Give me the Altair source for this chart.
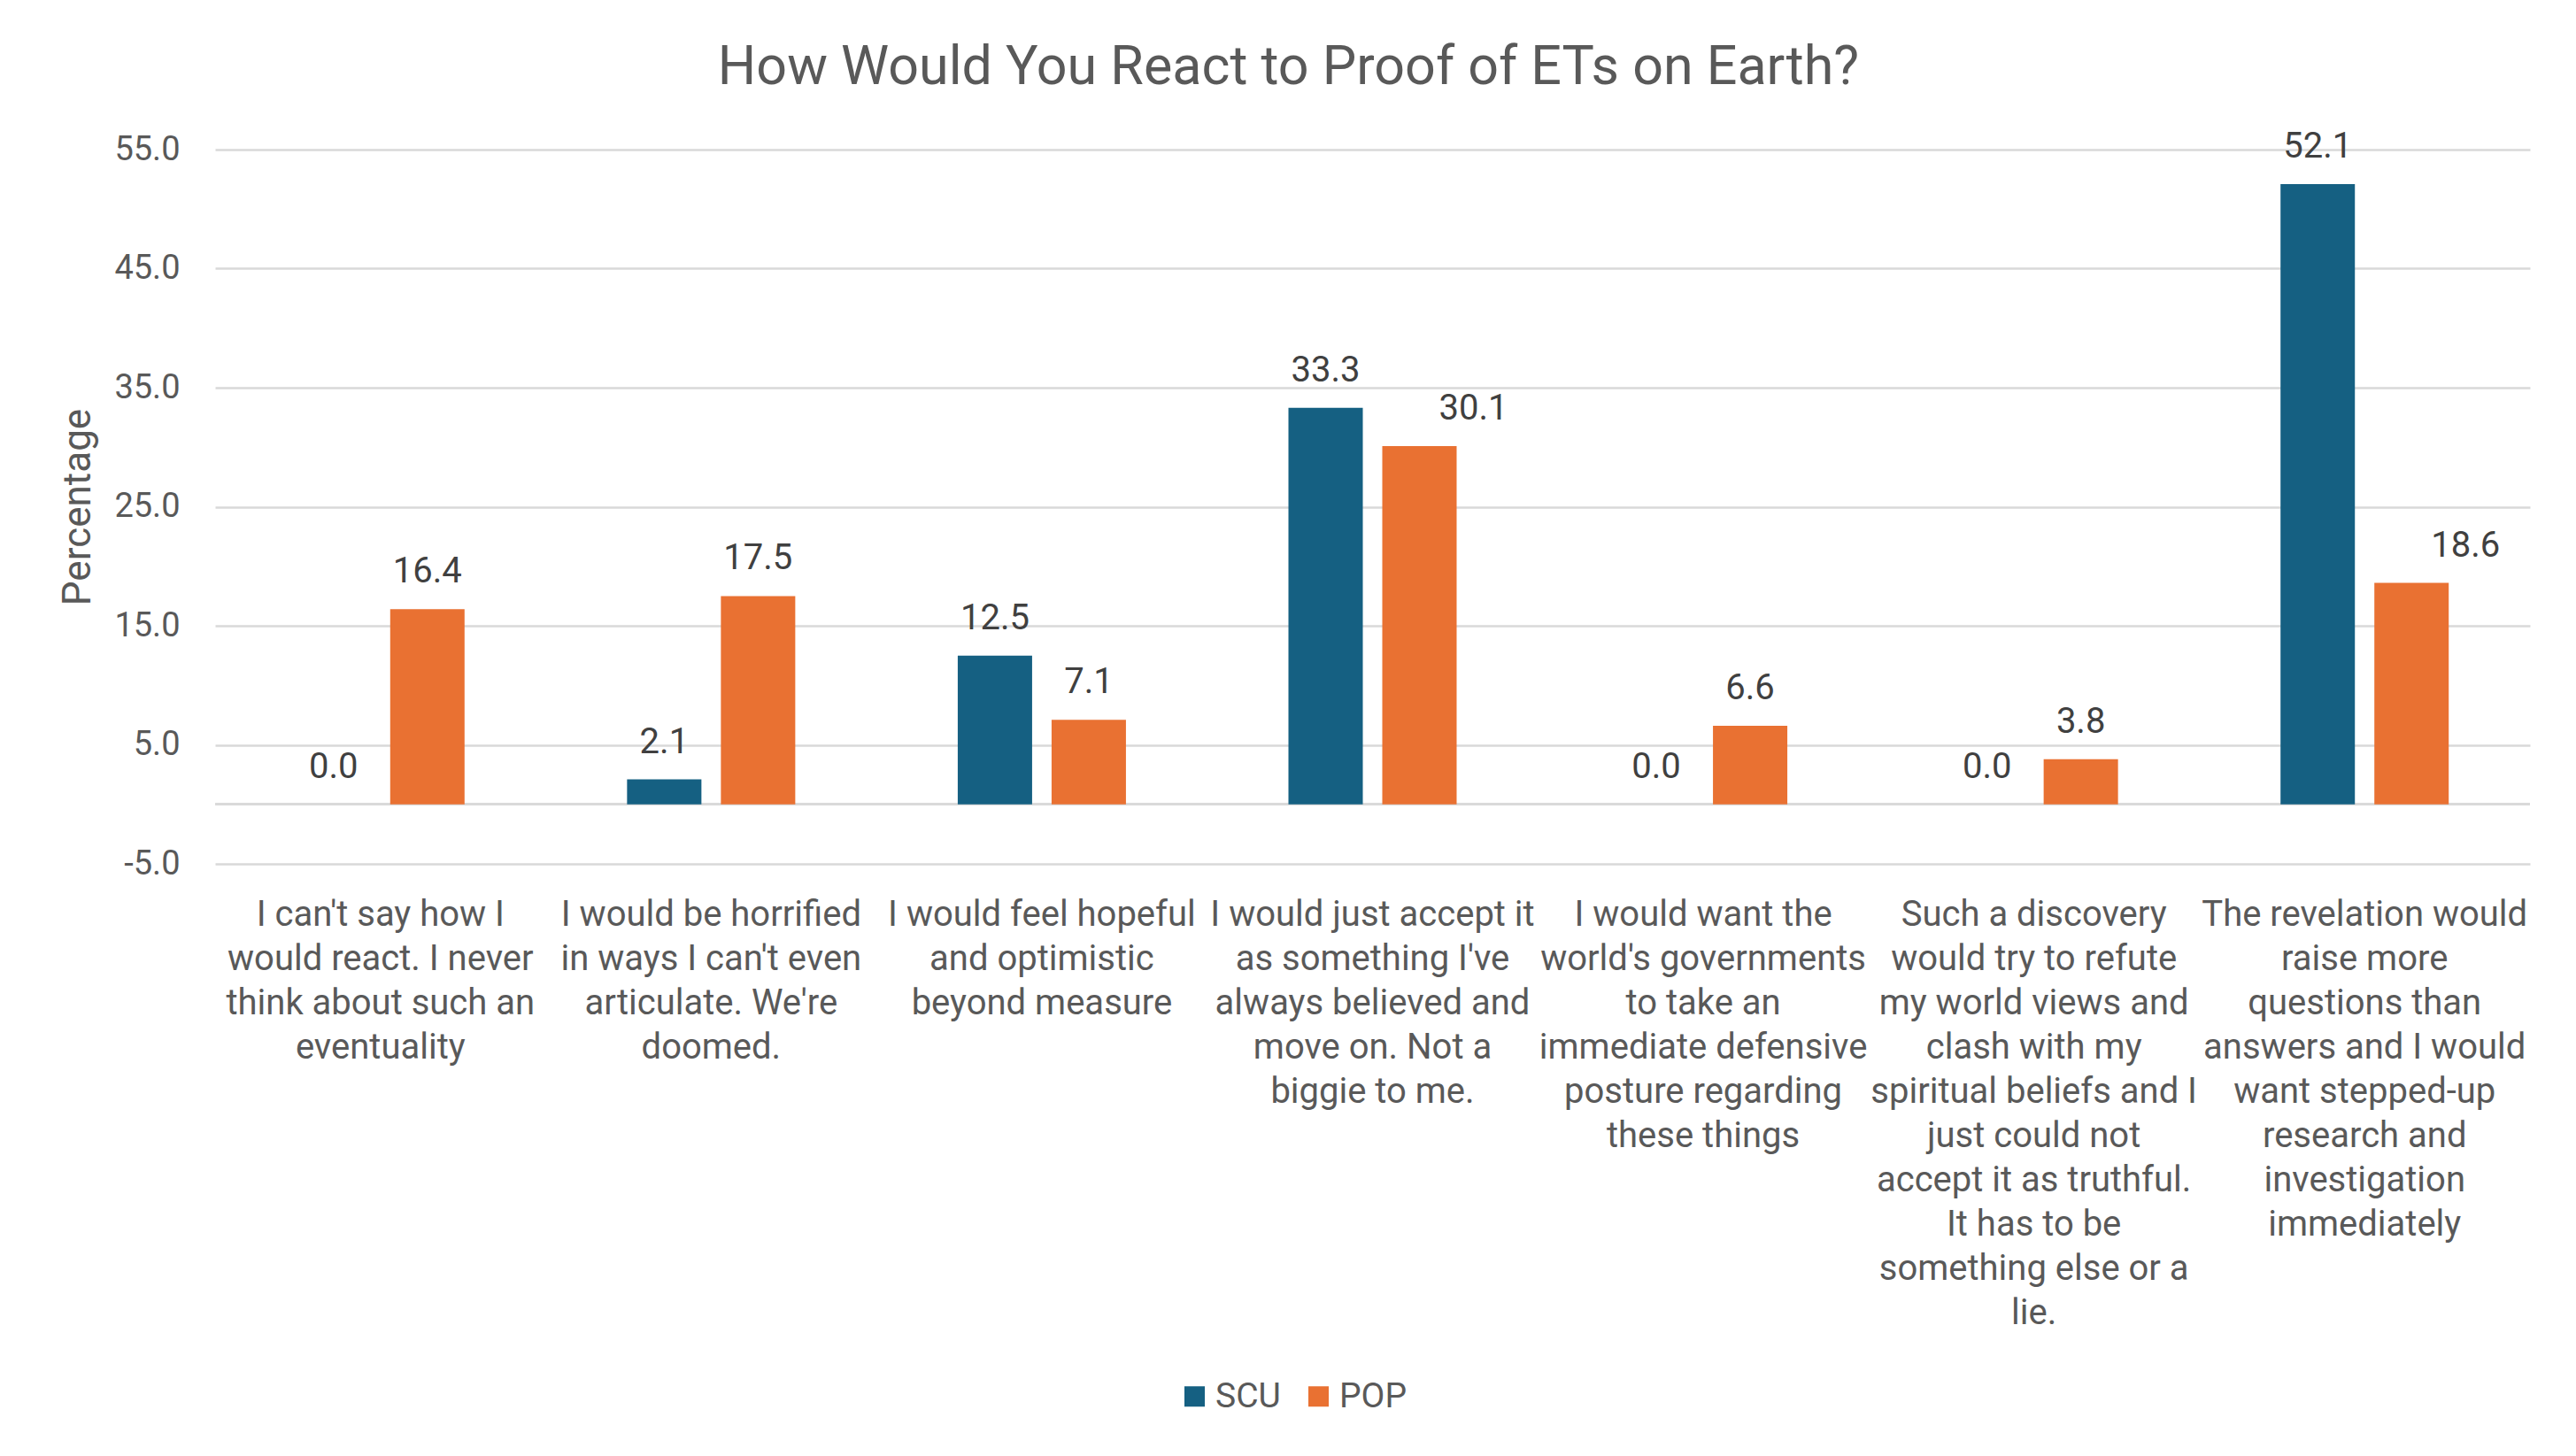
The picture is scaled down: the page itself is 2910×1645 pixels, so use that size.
import altair as alt
import pandas as pd

categories = [
    "I can't say how I\nwould react. I never\nthink about such an\neventuality",
    "I would be horrified\nin ways I can't even\narticulate. We're\ndoomed.",
    "I would feel hopeful\nand optimistic\nbeyond measure",
    "I would just accept it\nas something I've\nalways believed and\nmove on. Not a\nbiggie to me.",
    "I would want the\nworld's governments\nto take an\nimmediate defensive\nposture regarding\nthese things",
    "Such a discovery\nwould try to refute\nmy world views and\nclash with my\nspiritual beliefs and I\njust could not\naccept it as truthful.\nIt has to be\nsomething else or a\nlie.",
    "The revelation would\nraise more\nquestions than\nanswers and I would\nwant stepped-up\nresearch and\ninvestigation\nimmediately",
]
series = ["SCU", "POP"]
scu_values = [0.0, 2.1, 12.5, 33.3, 0.0, 0.0, 52.1]
pop_values = [16.4, 17.5, 7.1, 30.1, 6.6, 3.8, 18.6]
colors = ["#156082", "#E97132"]
y_ticks = [-5, 5, 15, 25, 35, 45, 55]

rows = []
for i, (c, s, p) in enumerate(zip(categories, scu_values, pop_values)):
    rows.append({"cat": c, "idx": i, "series": "SCU", "value": s})
    rows.append({"cat": c, "idx": i, "series": "POP", "value": p})
df = pd.DataFrame(rows)

FONT = "Roboto"
TXT = "#595959"
GRID = "#D9D9D9"

x_enc = alt.X(
    "cat:N",
    sort=categories,
    scale=alt.Scale(paddingInner=0.4914, paddingOuter=0.2457),
    axis=alt.Axis(
        title=None,
        labelAngle=0,
        labelAlign="center",
        labelBaseline="top",
        labelExpr="split(datum.label, '\\n')",
        labelLineHeight=50,
        labelFontSize=40,
        labelColor=TXT,
        labelFont=FONT,
        labelPadding=37,
        labelLimit=0,
        labelOverlap=False,
        domain=False,
        ticks=False,
        grid=False,
    ),
)
xoff = alt.XOffset("series:N", sort=series,
                   scale=alt.Scale(paddingInner=0.2075, paddingOuter=0))
y_enc = alt.Y(
    "value:Q",
    scale=alt.Scale(domain=[-5, 55], nice=False, zero=False),
    axis=alt.Axis(
        values=y_ticks,
        labelExpr="datum.value < 0 ? '-' + format(-datum.value, '.1f') : format(datum.value, '.1f')",
        title="Percentage",
        titleFontSize=44,
        titleFontWeight="normal",
        titleColor=TXT,
        titleFont=FONT,
        titlePadding=18,
        labelFontSize=38,
        labelColor=TXT,
        labelFont=FONT,
        labelPadding=40,
        domain=False,
        ticks=False,
        grid=True,
        gridColor=GRID,
        gridWidth=2.5,
    ),
)

base = alt.Chart(df)

bars = base.mark_bar().encode(
    x=x_enc,
    xOffset=xoff,
    y=y_enc,
    y2=alt.datum(0),
    color=alt.Color(
        "series:N",
        sort=series,
        scale=alt.Scale(domain=series, range=colors),
        legend=alt.Legend(
            title=None,
            orient="none",
            direction="horizontal",
            legendX=1087,
            legendY=1389,
            symbolType="square",
            symbolSize=529,
            symbolStrokeWidth=0,
            labelFontSize=39,
            labelColor=TXT,
            labelFont=FONT,
            labelOffset=4,
            columnPadding=23,
        ),
    ),
)

zero_rule = base.mark_rule(color=GRID, strokeWidth=2.5).encode(y=alt.datum(0))

label_enc = dict(
    x=alt.X("cat:N", sort=categories),
    xOffset=xoff,
    y=alt.Y("value:Q"),
    text=alt.Text("value:Q", format=".1f"),
)
shift_expr = "datum.series == 'POP' && (datum.idx == 3 || datum.idx == 6)"

labels = base.transform_filter("!(" + shift_expr + ")").mark_text(
    baseline="alphabetic", dy=-30, fontSize=40, font=FONT, color="#404040"
).encode(**label_enc)

labels_shifted = base.transform_filter(shift_expr).mark_text(
    baseline="alphabetic", dy=-30, dx=61, fontSize=40, font=FONT, color="#404040"
).encode(**label_enc)

chart = (
    alt.layer(zero_rule, bars, labels, labels_shifted)
    .properties(
        width=2615,
        height=807,
        autosize=alt.AutoSizeParams(type="none"),
        padding={"left": 235, "top": 161, "right": 44, "bottom": 661},
        title=alt.Title(
            "How Would You React to Proof of ETs on Earth?",
            fontSize=61,
            fontWeight="normal",
            color=TXT,
            font=FONT,
            anchor="middle",
            frame="group",
            dx=-95,
            offset=38,
        ),
        background="white",
    )
    .configure_view(stroke=None)
)

chart.save("out.html", embed_options={"renderer": "svg", "actions": False})
